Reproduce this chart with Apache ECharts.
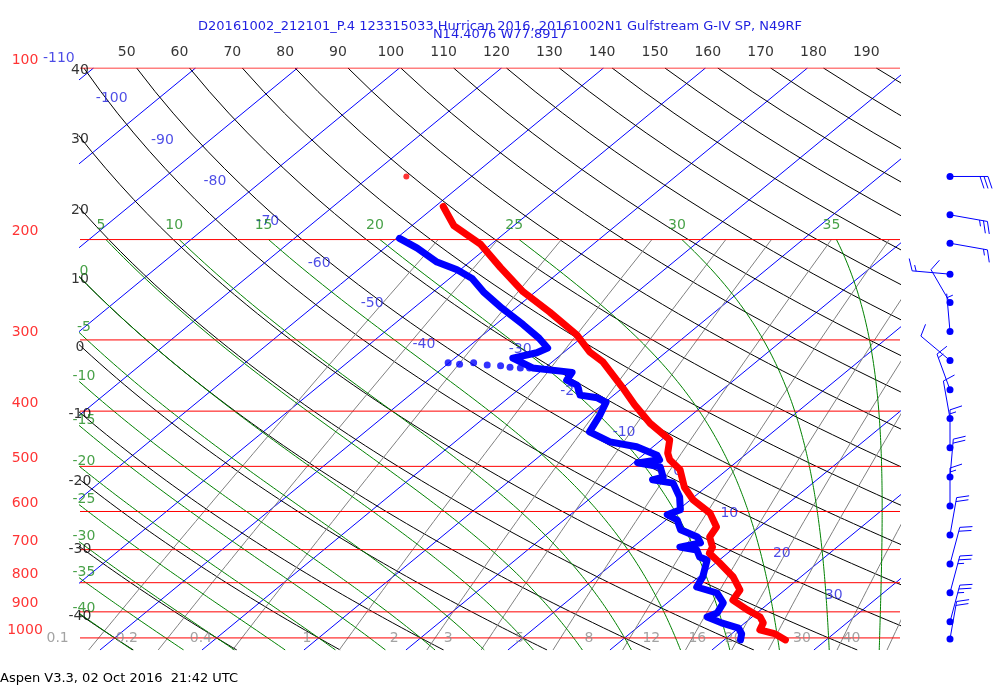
<!DOCTYPE html>
<html>
<head>
<meta charset="utf-8">
<script src="https://cdn.jsdelivr.net/npm/echarts@6/dist/echarts.min.js"></script>
<style>
  html, body { margin: 0; padding: 0; background: #fff; }
  #main { width: 1000px; height: 700px; }
</style>
</head>
<body>
<div id="main"></div>
<script>
// sounding: temperature (red)
var tempP = [175, 189, 204, 224, 247, 268, 294, 315, 328, 364, 390, 420, 449, 474, 487, 507, 544, 573, 604, 639, 665, 693, 710, 739, 782, 824, 858, 893, 919, 941, 968, 984, 1008];
var tempT = [-59.2, -55.9, -51.0, -46.3, -41.2, -36.2, -30.8, -27.5, -25.0, -20.0, -16.8, -13.1, -9.2, -7.8, -6.8, -4.6, -2.1, 0.3, 3.5, 5.8, 6.3, 7.8, 8.2, 10.4, 13.4, 15.6, 16.1, 18.7, 20.8, 21.8, 22.3, 24.3, 26.0];
// dewpoint (blue)
var dewP = [199, 207, 219, 226, 234, 247, 264, 282, 298, 310, 316, 323, 336, 342, 353, 360, 375, 379, 386, 406, 435, 453, 462, 478, 487, 493, 501, 522, 528, 535, 566, 596, 608, 621, 646, 665, 681, 693, 701, 721, 730, 782, 814, 834, 868, 904, 919, 941, 961, 984, 1008];
var dewT = [-59.7, -56.8, -53.2, -50.3, -47.8, -45.1, -41.3, -37.3, -34.1, -32.1, -32.6, -34.3, -31.2, -26.8, -26.4, -24.8, -23.3, -21.3, -19.9, -19.0, -18.0, -14.8, -11.6, -8.6, -7.8, -9.6, -6.9, -5.4, -6.1, -3.7, -1.4, 0.2, -0.5, 1.1, 2.6, 5.1, 6.1, 4.6, 6.6, 7.7, 8.8, 10.4, 11.0, 13.7, 15.5, 16.1, 15.6, 17.7, 20.0, 21.0, 21.6];
// scattered dewpoint points near 330 hPa
var dotDewP = [329, 331, 329, 332, 333, 335, 336, 336];
var dotDewT = [-40.1, -38.8, -37.6, -36.0, -34.6, -33.5, -32.4, -31.5];
// isolated temperature point
var loneP = [155];
var loneT = [-66.4];

// winds on the right
var windP = [155, 181, 203, 230, 258, 290, 326, 367, 412, 464, 522, 587, 660, 742, 833, 937, 1004];
var windDir = [90, 100, 100, 275, 330, 355, 310, 340, 350, 0, 5, 0, 10, 15, 15, 15, 10];
var windSpd = [30, 25, 15, 15, 10, 5, 10, 15, 10, 15, 20, 15, 20, 20, 25, 25, 20];

// background diagram
var isobars = [100, 200, 300, 400, 500, 600, 700, 800, 900, 1000];
var isotherms = [-110, -100, -90, -80, -70, -60, -50, -40, -30, -20, -10, 0, 10, 20, 30, 40];
var isoLabelP = [96, 113, 134, 158, 186, 220, 259, 306, 312, 369, 435, 511, 604, 712, 841, null];
var dryTheta = [-40, -30, -20, -10, 0, 10, 20, 30, 40, 50, 60, 70, 80, 90, 100, 110, 120, 130, 140, 150, 160, 170, 180, 190];
var moistTheta = [-40, -35, -30, -25, -20, -15, -10, -5, 0, 5, 10, 15, 20, 25, 30, 35];
var mixRatios = [0.1, 0.2, 0.4, 1, 2, 3, 5, 8, 12, 16, 20, 30, 40];

var SKEW = 29.5;
var XMIN = -43.4, XMAX = 37.0;
var PTOP = 100, PBOT = 1050;
var FONT = 'DejaVu Sans';

function skewX(T, p) { return T + SKEW * Math.log(1000 / p); }
function esat(T) { return 6.112 * Math.exp(17.67 * T / (T + 243.5)); }
function moistLapse(Tc, p) {
    var T = Tc + 273.15, es = esat(Tc), rs = 0.622 * es / (p - es);
    var Rd = 287, cp = 1004, L = 2.5e6;
    return (Rd * T + L * rs) / (p * (cp + L * L * rs * 0.622 / (Rd * T * T)));
}
function pressures(from, to, step) {
    var out = [];
    for (var p = from; p <= to + 0.01; p += step) out.push(p);
    return out;
}

// find where a curve leaves the left edge
function leftCross(pts) {
    for (var i = 1; i < pts.length; i++) {
        var a = pts[i - 1], b = pts[i];
        if ((a[0] - XMIN) * (b[0] - XMIN) <= 0 && a[0] !== b[0]) {
            var f = (XMIN - a[0]) / (b[0] - a[0]);
            return Math.exp(Math.log(a[1]) + f * (Math.log(b[1]) - Math.log(a[1])));
        }
    }
    return null;
}

var series = [];
var labels = { iso: [], dryTop: [], dryLeft: [], moistTop: [], moistLeft: [], mix: [], pres: [] };

function lineSeries(data, color, z) {
    return { type: 'line', data: data, showSymbol: false, silent: true, animation: false,
             lineStyle: { color: color, width: 1 }, z: z };
}

// isotherms
isotherms.forEach(function (T, i) {
    series.push(lineSeries([[skewX(T, PBOT), PBOT], [skewX(T, PTOP), PTOP]], '#0000ff', 1));
    if (isoLabelP[i]) labels.iso.push([skewX(T, isoLabelP[i]), isoLabelP[i], String(T)]);
});
// dry adiabats
dryTheta.forEach(function (th) {
    var pts = pressures(PTOP, PBOT, 10).map(function (p) {
        return [skewX((th + 273.15) * Math.pow(p / 1000, 0.2857) - 273.15, p), p];
    });
    series.push(lineSeries(pts, '#000000', 2));
    if (pts[0][0] >= XMIN + 2) labels.dryTop.push([pts[0][0], PTOP, String(th)]);
    else labels.dryLeft.push([XMIN, leftCross(pts) || PTOP, String(th)]);
});
// moist adiabats
moistTheta.forEach(function (tw) {
    var up = [], T = tw, p;
    for (p = 1000; p > 200; p -= 5) {
        up.push([skewX(T, p), p]);
        var k1 = moistLapse(T, p), k2 = moistLapse(T - 5 * k1, p - 5);
        T -= 2.5 * (k1 + k2);
    }
    up.push([skewX(T, 200), 200]);
    var down = []; T = tw;
    for (p = 1000; p < PBOT; p += 5) {
        var m1 = moistLapse(T, p), m2 = moistLapse(T + 5 * m1, p + 5);
        T += 2.5 * (m1 + m2);
        down.push([skewX(T, p + 5), p + 5]);
    }
    var pts = up.reverse().concat(down);
    series.push(lineSeries(pts, '#008000', 3));
    if (pts[0][0] >= XMIN) labels.moistTop.push([pts[0][0], 200, String(tw)]);
    else { var pc = leftCross(pts); if (pc) labels.moistLeft.push([XMIN, pc, String(tw)]); }
});
// mixing ratio lines
mixRatios.forEach(function (w) {
    var pts = pressures(200, PBOT, 25).map(function (p) {
        var e = w * p / (622 + w), l = Math.log(e / 6.112);
        return [skewX(243.5 * l / (17.67 - l), p), p];
    });
    series.push(lineSeries(pts, '#808080', 2));
    var e0 = w * 1000 / (622 + w), l0 = Math.log(e0 / 6.112);
    labels.mix.push([skewX(243.5 * l0 / (17.67 - l0), 1000), 1000, String(w)]);
});
// isobars
isobars.forEach(function (p) {
    series.push(lineSeries([[XMIN, p], [XMAX, p]], '#ff0000', 4));
    labels.pres.push([XMIN, p, String(p)]);
});

function labelSeries(data, color, offset, align) {
    return { type: 'scatter', data: data, symbolSize: 0, clip: false, silent: true, animation: false, z: 6,
             label: { show: true, position: 'inside', formatter: function (d) { return d.data[2]; },
                      color: color, fontFamily: FONT, fontSize: 14, offset: offset, align: align || 'center' } };
}
series.push(labelSeries(labels.iso, '#1f1fe0', [-47, 0]));
series.push(labelSeries(labels.dryTop, '#000000', [-10, -16]));
series.push(labelSeries(labels.dryLeft, '#000000', [0, 2]));
series.push(labelSeries(labels.moistTop, '#1a8a1a', [-5, -14]));
series.push(labelSeries(labels.moistLeft, '#1a8a1a', [4, -6]));
series.push(labelSeries(labels.mix, '#8c8c8c', [-41, 0]));
series.push(labelSeries(labels.pres, '#ff0000', [-55, -8]));

// sounding
function zip(ps, ts) { return ps.map(function (p, i) { return [skewX(ts[i], p), p]; }); }
series.push({ type: 'line', data: zip(dewP, dewT), showSymbol: false, clip: false, z: 8, animation: false,
              lineStyle: { color: '#0000ff', width: 7, join: 'round', cap: 'round' } });
series.push({ type: 'scatter', data: zip(dotDewP, dotDewT), symbolSize: 7, clip: false, z: 8, animation: false,
              itemStyle: { color: '#0000ff' } });
series.push({ type: 'line', data: zip(tempP, tempT), showSymbol: false, clip: false, z: 9, animation: false,
              lineStyle: { color: '#ff0000', width: 7, join: 'round', cap: 'round' } });
series.push({ type: 'scatter', data: zip(loneP, loneT), symbolSize: 6, clip: false, z: 9, animation: false,
              itemStyle: { color: '#ff0000' } });

// wind barbs
series.push({
    type: 'custom', xAxisIndex: 1, yAxisIndex: 1, clip: false, animation: false, silent: true,
    data: windP.map(function (p, i) { return [0.5, p, windDir[i], windSpd[i]]; }),
    renderItem: function (params, api) {
        var c = api.coord([0.5, api.value(1)]);
        var d = api.value(2) * Math.PI / 180, s = api.value(3);
        var ux = Math.sin(d), uy = -Math.cos(d), px = Math.cos(d), py = Math.sin(d);
        var L = 38, kids = [];
        var style = { stroke: '#0000ff', lineWidth: 1, fill: null };
        kids.push({ type: 'circle', shape: { cx: c[0], cy: c[1], r: 3.5 }, style: { fill: '#0000ff' } });
        kids.push({ type: 'line', shape: { x1: c[0], y1: c[1], x2: c[0] + ux * L, y2: c[1] + uy * L }, style: style });
        var full = Math.floor(s / 10), half = (s % 10) >= 5, pos = L;
        for (var i = 0; i < full; i++) {
            var bx = c[0] + ux * pos, by = c[1] + uy * pos;
            kids.push({ type: 'line', shape: { x1: bx, y1: by, x2: bx + px * 12 + ux * 4, y2: by + py * 12 + uy * 4 }, style: style });
            pos -= 4;
        }
        if (half) {
            if (full === 0) pos -= 4;
            var hx = c[0] + ux * pos, hy = c[1] + uy * pos;
            kids.push({ type: 'line', shape: { x1: hx, y1: hy, x2: hx + px * 6 + ux * 2, y2: hy + py * 6 + uy * 2 }, style: style });
        }
        return { type: 'group', children: kids };
    }
});

var chart = echarts.init(document.getElementById('main'), null, { renderer: 'canvas' });
chart.setOption({
    animation: false,
    backgroundColor: '#ffffff',
    title: {
        text: 'D20161002_212101_P.4 123315033 Hurrican 2016, 20161002N1 Gulfstream G-IV SP, N49RF',
        subtext: 'N14.4076 W77.8917',
        left: 'center', top: 15, itemGap: -5,
        textStyle: { color: '#1f1fe0', fontFamily: FONT, fontSize: 13, fontWeight: 'normal' },
        subtextStyle: { color: '#1f1fe0', fontFamily: FONT, fontSize: 13 }
    },
    graphic: [{ type: 'text', left: 0, top: 672,
                style: { text: 'Aspen V3.3, 02 Oct 2016  21:42 UTC', fill: '#000', font: '13px "DejaVu Sans"' } }],
    grid: [
        { left: 80, right: 100, top: 68, bottom: 50 },
        { left: 900, right: 0, top: 68, bottom: 50 }
    ],
    xAxis: [
        { type: 'value', min: XMIN, max: XMAX, show: false },
        { type: 'value', min: 0, max: 1, gridIndex: 1, show: false }
    ],
    yAxis: [
        { type: 'log', logBase: 10, min: PTOP, max: PBOT, inverse: true, show: false },
        { type: 'log', logBase: 10, min: PTOP, max: PBOT, inverse: true, gridIndex: 1, show: false }
    ],
    series: series
});
</script>
</body>
</html>
